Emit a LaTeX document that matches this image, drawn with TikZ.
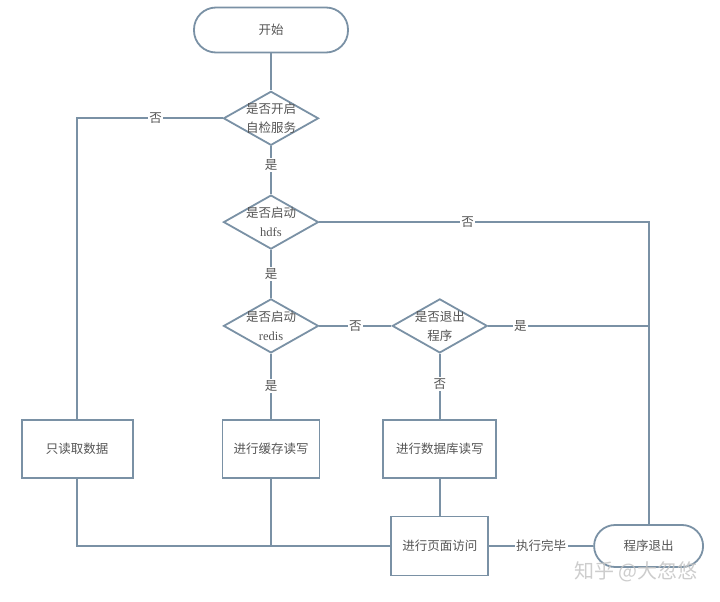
\documentclass[tikz,border=0pt]{standalone}
\usepackage{fontspec}
\newfontfamily\cjk{Noto Sans CJK SC}
\newfontfamily\latserif{Liberation Serif}
\usetikzlibrary{positioning,shapes.geometric}
\definecolor{flowLn}{HTML}{7A91A5}
\definecolor{flowTx}{HTML}{555555}
\definecolor{flowWm}{HTML}{C4C4C4}

\begin{document}
\begin{tikzpicture}[
  x=1pt, y=1pt,
  every node/.style={font=\cjk\fontsize{12.5}{19}\selectfont, text=flowTx},
  term/.style={rectangle, rounded corners=21pt, draw=flowLn, line width=1.8pt, fill=white, inner sep=0pt},
  dia/.style={diamond, draw=flowLn, line width=1.8pt, fill=white, minimum width=95pt, minimum height=54pt, inner sep=0pt},
  dlbl/.style={align=center, inner sep=0pt},
  proc/.style={rectangle, draw=flowLn, line width=1.8pt, fill=white, minimum height=58pt, inner sep=0pt},
  link/.style={draw=flowLn, line width=1.8pt},
  lbl/.style={fill=white, inner sep=1.5pt}
]
  \useasboundingbox (-271,30) rectangle (449,-572);

  % decisions down the middle
  \node[term, minimum width=154pt, minimum height=45pt, rounded corners=22pt] (start) at (0,0) {开始};
  \node[dia, below=37pt of start, label={[dlbl]center:{是否开启\\自检服务}}] (chk) {};
  \node[dia, below=48pt of chk, label={[dlbl]center:{是否启动\\{\latserif hdfs}}}] (hdfs) {};
  \node[dia, below=48pt of hdfs, label={[dlbl]center:{是否启动\\{\latserif redis}}}] (redis) {};
  \node[dia, right=72pt of redis, label={[dlbl]center:{是否退出\\程序}}] (quitq) {};

  % work boxes
  \node[proc, below=65pt of redis, minimum width=97pt] (cache) {进行缓存读写};
  \node[proc, left=88pt of cache, minimum width=111pt] (readonly) {只读取数据};
  \node[proc, below=65pt of quitq, minimum width=113pt] (dbrw) {进行数据库读写};
  \node[proc, below=37pt of dbrw, minimum width=97pt, minimum height=59pt] (page) {进行页面访问};
  \node[term, right=104pt of page, minimum width=109pt, minimum height=42pt] (quit) {程序退出};

  \draw[link] (start) -- (chk);
  \draw[link] (chk.west) -| node[lbl, pos=0.23] {否} (readonly.north);
  \draw[link] (chk) -- node[lbl, pos=0.4] {是} (hdfs);
  \draw[link] (hdfs.east) -| node[lbl, pos=0.225] {否} (quit.north);
  \draw[link] (hdfs) -- node[lbl] {是} (redis);
  \draw[link] (redis) -- node[lbl] {否} (quitq);
  \draw[link] (quitq.east) -- node[lbl, pos=0.2] {是} (quitq.east -| quit.north);
  \draw[link] (redis) -- node[lbl] {是} (cache);
  \draw[link] (quitq) -- node[lbl, pos=0.46] {否} (dbrw);
  \draw[link] (readonly.south) |- (page.west);
  \draw[link] (cache.south) -- (cache.south |- page.west);
  \draw[link] (dbrw) -- (page);
  \draw[link] (page) -- node[lbl] {执行完毕} (quit);

  \node[font=\cjk\fontsize{20}{22}\selectfont, text=flowWm, opacity=0.85] (wm) at (365,-542) {知乎 @大忽悠};
\end{tikzpicture}
\end{document}
